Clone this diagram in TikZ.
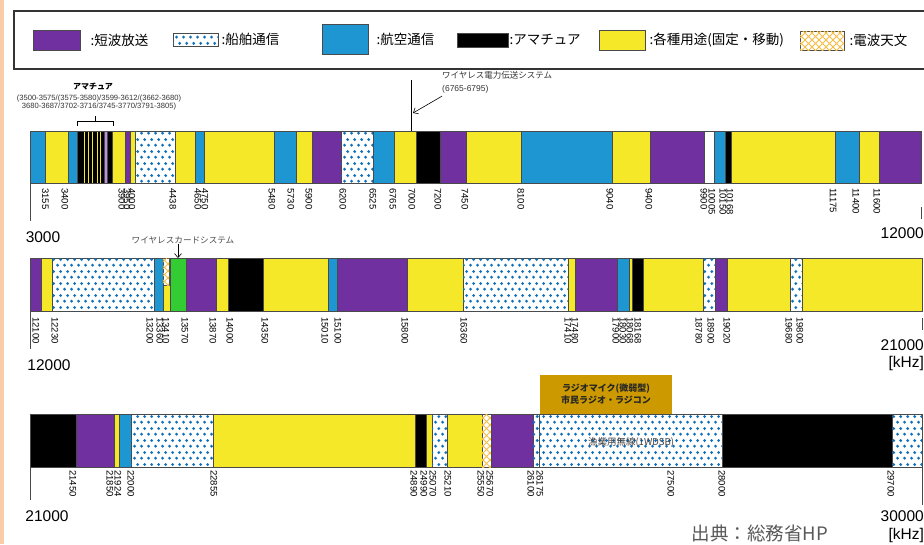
\documentclass[tikz,border=0pt]{standalone}
\usepackage{fontspec}
\setmainfont{Liberation Sans}
\newfontfamily\jp{Noto Sans CJK JP}
\usetikzlibrary{positioning,arrows.meta,patterns.meta}

\definecolor{bcastpurple}{HTML}{7030A0}
\definecolor{aeroblue}{HTML}{1E96D2}
\definecolor{miscyellow}{HTML}{F5E828}
\definecolor{dotblue}{HTML}{0F70BA}
\definecolor{hatchorange}{HTML}{F5BE46}
\definecolor{cardgreen}{HTML}{33CC33}
\definecolor{micbrown}{HTML}{CC9900}
\definecolor{lavender}{HTML}{BE8CE6}
\definecolor{edgegray}{HTML}{4A4A4A}
\definecolor{peach}{HTML}{FACDAA}

\tikzdeclarepattern{
  name=shipdots,
  bottom left={(0pt,0pt)},
  top right={(7pt,12pt)},
  tile size={(7pt,12pt)},
  code={
    \pgfpathcircle{\pgfpoint{1.75pt}{3pt}}{1.7pt}
    \pgfpathcircle{\pgfpoint{5.25pt}{9pt}}{1.7pt}
    \pgfusepath{fill}
  }
}

\tikzdeclarepattern{
  name=astrohatch,
  bottom left={(-1pt,-1pt)},
  top right={(8pt,8pt)},
  tile size={(7pt,7pt)},
  code={
    \pgfsetlinewidth{0.8pt}
    \pgfpathmoveto{\pgfpoint{-1pt}{-1pt}}
    \pgfpathlineto{\pgfpoint{8pt}{8pt}}
    \pgfpathmoveto{\pgfpoint{-1pt}{8pt}}
    \pgfpathlineto{\pgfpoint{8pt}{-1pt}}
    \pgfusepath{stroke}
  }
}

\tikzset{
  seg/.style={draw=edgegray, line width=0.5pt},
  bcast/.style={fill=bcastpurple},
  ship/.style={fill=white, postaction={pattern=shipdots, pattern color=dotblue}},
  aero/.style={fill=aeroblue},
  ham/.style={fill=black},
  misc/.style={fill=miscyellow},
  astro/.style={fill=white, postaction={pattern=astrohatch, pattern color=hatchorange}},
  card/.style={fill=cardgreen},
  blank/.style={fill=white},
  legkey/.style={draw=edgegray, line width=0.6pt, inner sep=0pt},
  legtxt/.style={font=\jp\fontsize{13.5}{15}\selectfont, inner sep=0pt},
  num/.style={font=\fontsize{9.5}{10}\selectfont, rotate=-90, anchor=west, inner sep=0pt},
  endnum/.style={font=\fontsize{15.5}{17}\selectfont, inner sep=0pt},
  note/.style={font=\jp\fontsize{8.5}{10}\selectfont, text=black!80, inner sep=0pt},
  axis/.style={draw=edgegray, line width=0.6pt},
  ptr/.style={-{Straight Barb[length=4pt,width=7pt]}, line width=0.6pt}
}

\begin{document}
\begin{tikzpicture}[x=1pt, y=-1pt]
    \useasboundingbox (0,0) rectangle (924,544);
    \fill[white] (0,0) rectangle (924,544);
    \fill[peach] (0,0) rectangle (4,544);

    \draw[edgegray!70!black, line width=1.2pt] (924,11) -- (14,11) -- (14,69) -- (924,69);
    \node[legkey, bcast, minimum width=47pt, minimum height=20pt] (kbcast) at (56.5,40) {};
    \node[legtxt, right=10pt of kbcast] (tbcast) {:短波放送};
    \node[legkey, ship, minimum width=45pt, minimum height=13pt] (kship) at (195.5,39.5) {};
    \node[legtxt, right=3pt of kship] (tship) {:船舶通信};
    \node[legkey, aero, minimum width=46pt, minimum height=30pt] (kaero) at (345,39) {};
    \node[legtxt, right=8pt of kaero] (taero) {:航空通信};
    \node[legkey, ham, minimum width=51pt, minimum height=14pt] (kham) at (482.5,40) {};
    \node[legtxt, right=1pt of kham] (tham) {:アマチュア};
    \node[legkey, misc, minimum width=46pt, minimum height=20pt] (kmisc) at (622,40) {};
    \node[legtxt, right=4pt of kmisc] (tmisc) {:各種用途(固定・移動)};
    \node[legkey, astro, minimum width=44pt, minimum height=19pt] (kastro) at (822,40.5) {};
    \node[legtxt, right=5pt of kastro] (tastro) {:電波天文};

    \node[note, font=\jp\bfseries\fontsize{8}{9}\selectfont, text=black] (hamtitle) at (93,87) {アマチュア};
    \node[font=\fontsize{7.6}{8.2}\selectfont, text=black!80, align=center, inner sep=0pt] (hamrange) at (99,102.5) {(3500-3575/(3575-3580)/3599-3612/(3662-3680)\\3680-3687/3702-3716/3745-3770/3791-3805)};
    \draw[line width=0.6pt] (77,126) -- (77,121) -- (113,121) -- (113,126);
    \draw[line width=0.6pt] (95,121) -- (95,116);

    \node[note, anchor=west] (wpt) at (442,75) {ワイヤレス電力伝送システム};
    \node[note, font=\fontsize{8.5}{10}\selectfont, anchor=west] (wptrange) at (442,89) {(6765-6795)};
    \coordinate (wpttop) at (411,80);
    \coordinate (wptbar) at (411,131);
    \coordinate (wpttip) at (413,113);
    \draw[line width=0.6pt] (wpttop) -- (wptbar);
    \draw[ptr] ([yshift=-3pt]wptrange.south west) -- (wpttip);

    \foreach \a/\b/\k in {30/45/aero, 45/68/misc, 68/77/aero, 77/112/ham, 112/125/misc, 125/130/bcast, 130/135/misc, 135/175/ship, 175/195/misc, 195/204/aero, 204/274/misc, 274/296/aero, 296/312/misc, 312/341/bcast, 341/373/ship, 373/394/aero, 394/416/misc, 416/440/ham, 440/466/bcast, 466/521/misc, 521/612/aero, 612/650/misc, 650/704/bcast, 704/714/blank, 714/725/aero, 725/731/ham, 731/835/misc, 835/859/aero, 859/879/misc, 879/921/bcast}
        \draw[seg, \k] (\a,131) rectangle (\b,183);
    \foreach \x in {84,88,92,97,100}
        \draw[miscyellow, line width=1pt] (\x,131.5) -- (\x,182.5);
    \draw[seg, fill=lavender] (104,131) rectangle (107,183);
    \draw[axis] (30,183) -- (30,221);
    \draw[axis] (921,207) -- (921,219);
    \foreach \f/\x in {3155/45.5, 3400/65, 3900/122, 3950/127, 4000/132, 4438/173, 4650/198, 4750/205, 5480/272, 5730/291, 5900/309, 6200/343, 6525/373, 6765/393, 7000/412, 7200/438, 7450/465, 8100/521, 9040/610, 9400/649, 9900/704, 10005/712, 10150/723, 10168/730, 11175/833, 11400/856, 11600/877}
        \node[num] (f\f) at (\x,188) {\f};
    \node[endnum] (b1start) at (43,237) {3000};
    \node[endnum, anchor=east] (b1end) at (924,233) {12000};

    \foreach \a/\b/\k in {30/41/bcast, 41/52/misc, 52/154/ship, 154/163/aero, 163/170/misc, 170/186/card, 186/216/bcast, 216/228/misc, 228/263/ham, 263/328/misc, 328/337/aero, 337/407/bcast, 407/463/misc, 463/568/ship, 568/575/misc, 575/617/bcast, 617/629/aero, 629/632/misc, 632/643/ham, 643/703/misc, 703/715/ship, 715/727/bcast, 727/790/misc, 790/802/ship, 802/922/misc}
        \draw[seg, \k] (\a,258) rectangle (\b,311);
    \draw[seg, astro] (163,258) rectangle (169,285);
    \draw[axis] (30,311) -- (30,349);
    \draw[axis] (922,318) -- (922,330);
    \foreach \f/\x in {12100/36, 12230/55, 13200/150, 13360/160, 13410/166, 13570/185, 13870/213, 14000/230, 14350/265, 15010/325, 15100/338, 15800/405, 16360/464, 17410/568, 17480/575, 17900/616, 18030/623, 18068/630, 18168/638, 18780/699, 18900/711, 19020/727, 19680/789, 19800/800}
        \node[num] (f\f) at (\x,317) {\f};
    \node[endnum] (b2start) at (49,365) {12000};
    \node[endnum, anchor=east] (b2end) at (924,345) {21000};
    \node[endnum, anchor=east] (b2unit) at (924,363) {[kHz]};

    \node[note, font=\jp\fontsize{8.6}{10}\selectfont, text=black!70] (cardtxt) at (183,240) {ワイヤレスカードシステム};
    \coordinate (cardtip) at (178,258);
    \draw[ptr] (cardtxt.south -| cardtip) -- (cardtip);

    \foreach \a/\b/\k in {30/76/ham, 76/114/bcast, 114/119/misc, 119/131/aero, 131/213/ship, 213/415/misc, 415/426/ham, 426/432/misc, 432/447/ship, 447/482/misc, 482/491/astro, 491/533/bcast, 533/539/ship, 539/722/ship, 722/892/ham, 892/922/ship}
        \draw[seg, \k] (\a,414) rectangle (\b,467);
    \draw[axis] (30,467) -- (30,500);
    \draw[axis] (922,467) -- (922,505);
    \foreach \f/\x in {21450/73, 21850/110, 21924/118, 22000/131, 22855/214, 24890/414, 24990/424, 25070/433, 25210/448, 25550/481, 25670/490, 26100/531, 26175/540, 27500/671, 28000/722, 29700/891}
        \node[num] (f\f) at (\x,470) {\f};
    \node[endnum] (b3start) at (47,516) {21000};
    \node[endnum, anchor=east] (b3end) at (924,516) {30000};
    \node[endnum, anchor=east] (b3unit) at (924,535) {[kHz]};

    \node[fill=micbrown, minimum width=132pt, minimum height=39pt, inner sep=0pt, align=center, font=\jp\bfseries\fontsize{9}{12}\selectfont, text=black!85] (mic) at (606,394.5) {ラジオマイク(微弱型)\\市民ラジオ・ラジコン};
    \node[font=\jp\fontsize{9.5}{11}\selectfont, text=black!75, inner sep=0pt] (fish) at (631,442) {漁業用無線(1WDSB)};

    \node[font=\jp\fontsize{18.5}{20}\selectfont, text=black!65, inner sep=0pt] (source) at (760,533) {出典：総務省HP};
  \end{tikzpicture}
\end{document}
